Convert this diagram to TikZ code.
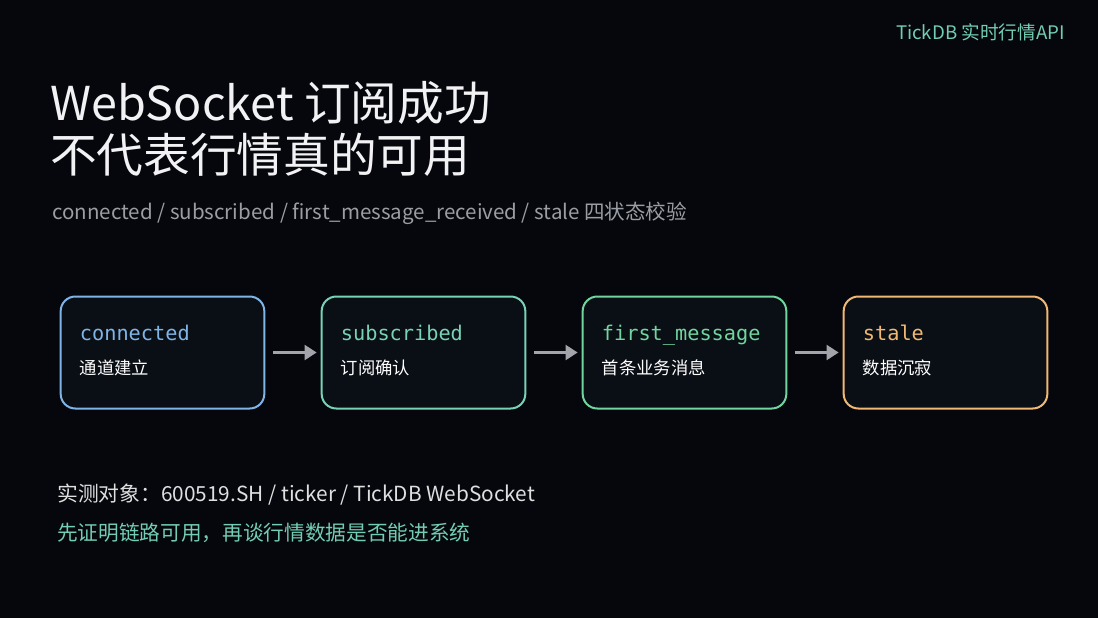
\documentclass[tikz,border=0pt]{standalone}
\usepackage{fontspec}
\setmainfont{Noto Sans CJK SC}
\setmonofont{DejaVu Sans Mono}
\usetikzlibrary{positioning,arrows.meta}

\definecolor{bgcol}{HTML}{05070D}
\definecolor{boxfill}{HTML}{0A0E15}
\definecolor{titlecol}{HTML}{F2F2F4}
\definecolor{subcol}{HTML}{9B9DA4}
\definecolor{tealcol}{HTML}{72CDB2}
\definecolor{arrowcol}{HTML}{A3A4AB}
\definecolor{conncol}{HTML}{7FB4E6}
\definecolor{subscol}{HTML}{78D2B6}
\definecolor{firstcol}{HTML}{70D59E}
\definecolor{stalecol}{HTML}{F0B872}

\begin{document}
\begin{tikzpicture}
		[x=0.75pt,y=-0.75pt,
		state/.style ={rectangle, draw, line width=1.5pt, fill=boxfill, rounded corners=11pt,
			minimum width=152.75pt, minimum height=84pt},
		tag/.style ={inner sep=0pt, anchor=base west, font=\ttfamily\fontsize{15.2}{17}\selectfont},
		desc/.style ={inner sep=0pt, anchor=base west, text=white, font=\fontsize{13}{15}\selectfont},
		line/.style ={draw=arrowcol, line width=2.2pt, -{Triangle[length=9pt,width=11pt]}},
		plain/.style ={inner sep=0pt, anchor=west}]
		% background and page size
		\fill[bgcol] (0,0) rectangle (1098,618);

		% header
		\node[plain, anchor=east, text=tealcol, font=\fontsize{14}{16}\selectfont] (brand) at (1065,32) {TickDB 实时行情API};
		\node[plain, text=titlecol, font=\fontsize{35}{39}\selectfont, align=left, anchor=north west] (title) at (50,81)
			{WebSocket 订阅成功\\不代表行情真的可用};
		\node[plain, text=subcol, font=\fontsize{15.4}{17}\selectfont] (subtitle) at (52,213)
			{connected / subscribed / first\_message\_received / stale 四状态校验};

		% states
		\node[state, draw=conncol] (conn) at (162.5,352.5) {};
		\node[state, draw=subscol, right=41.5pt of conn] (subs) {};
		\node[state, draw=firstcol, right=41.5pt of subs] (first) {};
		\node[state, draw=stalecol, right=41.5pt of first] (stale) {};

		\node[tag, text=conncol] (conn-tag) at ([xshift=15pt, yshift=9pt]conn.west) {connected};
		\node[desc] (conn-desc) at ([xshift=15pt, yshift=-16.8pt]conn.west) {通道建立};
		\node[tag, text=subscol] (subs-tag) at ([xshift=15pt, yshift=9pt]subs.west) {subscribed};
		\node[desc] (subs-desc) at ([xshift=15pt, yshift=-16.8pt]subs.west) {订阅确认};
		\node[tag, text=firstcol] (first-tag) at ([xshift=15pt, yshift=9pt]first.west) {first\_message};
		\node[desc] (first-desc) at ([xshift=15pt, yshift=-16.8pt]first.west) {首条业务消息};
		\node[tag, text=stalecol] (stale-tag) at ([xshift=15pt, yshift=9pt]stale.west) {stale};
		\node[desc] (stale-desc) at ([xshift=15pt, yshift=-16.8pt]stale.west) {数据沉寂};

		\path[line, shorten <=6pt, shorten >=3pt]
		(conn) -- (subs);
		\path[line, shorten <=6pt, shorten >=3pt]
		(subs) -- (first);
		\path[line, shorten <=6pt, shorten >=3pt]
		(first) -- (stale);

		% footer
		\node[plain, text=titlecol!92!black, font=\fontsize{15.6}{17}\selectfont] (target) at (57,495)
			{实测对象：600519.SH / ticker / TickDB WebSocket};
		\node[plain, text=tealcol, font=\fontsize{15.5}{17}\selectfont] (note) at (57,533)
			{先证明链路可用，再谈行情数据是否能进系统};
	\end{tikzpicture}
\end{document}
